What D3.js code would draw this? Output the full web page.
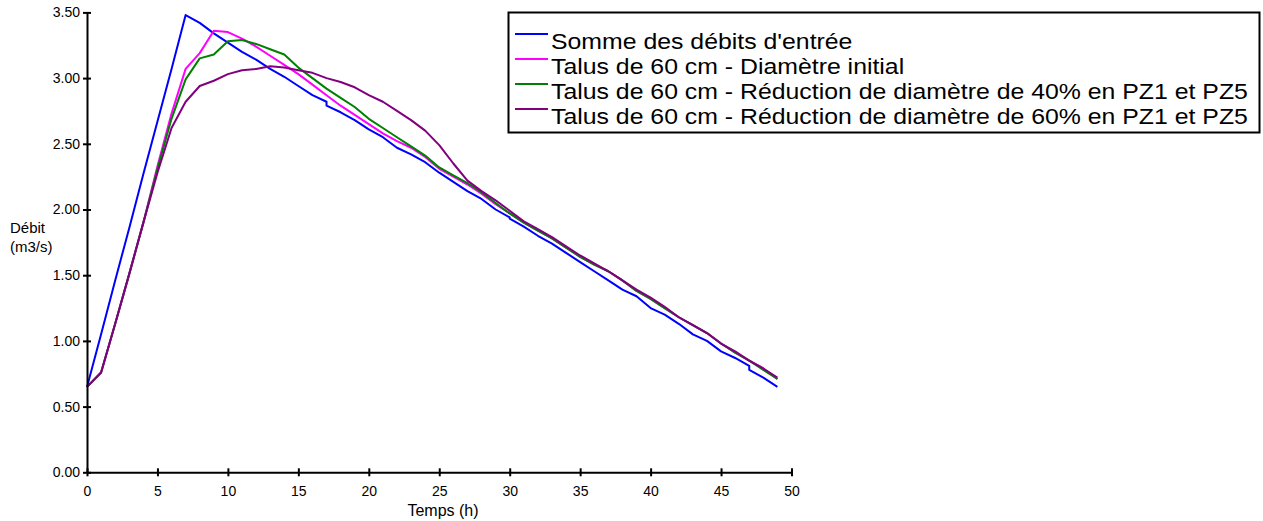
<!DOCTYPE html>
<html lang="fr">
<head>
<meta charset="utf-8">
<script src="https://cdn.jsdelivr.net/npm/d3@7"></script>
<style>
  html, body { margin: 0; padding: 0; background: #fff; }
  svg { display: block; font-family: "Liberation Sans", Arial, sans-serif; }
</style>
</head>
<body>
<svg id="chart" width="1263" height="521"></svg>
<script>
// Heures de simulation
const heures = d3.range(0, 50);
// La somme des débits comporte trois petits sauts (valeurs doublées à 17 h, 30 h et 47 h)
const heuresSomme = [0,1,2,3,4,5,6,7,8,9,10,11,12,13,14,15,16,17,17,18,19,20,21,22,23,24,25,26,27,28,29,30,30,31,32,33,34,35,36,37,38,39,40,41,42,43,44,45,46,47,47,48,49];

const sommeDebits = [0.65,1.05,1.46,1.86,2.27,2.67,3.07,3.48,3.42,3.34,3.27,3.20,3.14,3.07,3.01,2.94,2.87,2.82,2.79,2.74,2.68,2.61,2.55,2.47,2.42,2.36,2.28,2.21,2.14,2.08,2.00,1.94,1.93,1.87,1.80,1.74,1.67,1.60,1.53,1.46,1.39,1.34,1.25,1.20,1.13,1.05,1.00,0.92,0.87,0.81,0.78,0.72,0.65];

const diametreInitial = [0.65,0.76,1.13,1.51,1.90,2.33,2.73,3.07,3.19,3.36,3.35,3.30,3.24,3.17,3.10,3.03,2.95,2.87,2.79,2.72,2.65,2.58,2.52,2.47,2.40,2.31,2.25,2.19,2.12,2.04,1.97,1.90,1.84,1.78,1.71,1.64,1.58,1.53,1.46,1.38,1.32,1.25,1.18,1.12,1.06,0.98,0.91,0.85,0.79,0.71];

const reduction40 = [0.65,0.76,1.13,1.51,1.90,2.31,2.69,2.99,3.15,3.18,3.28,3.29,3.26,3.22,3.18,3.08,3.00,2.92,2.85,2.78,2.69,2.62,2.55,2.48,2.41,2.32,2.26,2.20,2.13,2.05,1.97,1.90,1.84,1.78,1.71,1.64,1.58,1.53,1.46,1.38,1.32,1.25,1.18,1.12,1.06,0.98,0.91,0.85,0.78,0.71];

const reduction60 = [0.65,0.76,1.13,1.51,1.90,2.28,2.62,2.82,2.94,2.98,3.03,3.06,3.07,3.09,3.08,3.06,3.04,3.00,2.97,2.93,2.87,2.82,2.75,2.68,2.60,2.49,2.35,2.22,2.14,2.07,1.99,1.91,1.85,1.79,1.72,1.65,1.59,1.53,1.46,1.39,1.33,1.26,1.18,1.12,1.06,0.98,0.92,0.85,0.79,0.72];

const nomsSeries = [
  "Somme des débits d'entrée",
  "Talus de 60 cm - Diamètre initial",
  "Talus de 60 cm - Réduction de diamètre de 40% en PZ1 et PZ5",
  "Talus de 60 cm - Réduction de diamètre de 60% en PZ1 et PZ5"
];
const couleurs = ["#0000ff", "#ff00ff", "#008000", "#800080"];

const xTicks = [0, 5, 10, 15, 20, 25, 30, 35, 40, 45, 50];
const yTicks = [0, 0.5, 1, 1.5, 2, 2.5, 3, 3.5];

const series = [
  { nom: nomsSeries[0], couleur: couleurs[0], t: heuresSomme, v: sommeDebits },
  { nom: nomsSeries[1], couleur: couleurs[1], t: heures, v: diametreInitial },
  { nom: nomsSeries[2], couleur: couleurs[2], t: heures, v: reduction40 },
  { nom: nomsSeries[3], couleur: couleurs[3], t: heures, v: reduction60 }
];

const svg = d3.select("#chart");
const zone = { left: 87, right: 791.5, top: 12.4, bottom: 472.3 };

const x = d3.scaleLinear().domain([0, 50]).range([zone.left, zone.right]);
const y = d3.scaleLinear().domain([0, 3.5]).range([zone.bottom, zone.top]);

// Courbes
const ligne = d3.line().x(d => x(d[0])).y(d => y(d[1]));
svg.append("g")
  .selectAll("path")
  .data(series)
  .join("path")
  .attr("fill", "none")
  .attr("stroke", d => d.couleur)
  .attr("stroke-width", 2)
  .attr("stroke-linejoin", "round")
  .attr("d", d => ligne(d.t.map((t, i) => [t, d.v[i]])));

// Axes
const axeY = svg.append("g")
  .attr("transform", `translate(${zone.left},0)`)
  .call(d3.axisLeft(y).tickValues(yTicks).tickFormat(d3.format(".2f"))
    .tickSizeInner(4).tickSizeOuter(0).tickPadding(3));
const axeX = svg.append("g")
  .attr("transform", `translate(0,${zone.bottom})`)
  .call(d3.axisBottom(x).tickValues(xTicks).tickFormat(d3.format("d"))
    .tickSizeInner(4).tickSizeOuter(0).tickPadding(10));

axeY.selectAll(".tick line").attr("x1", 4);
axeX.selectAll(".tick line").attr("y1", -4);
[axeY, axeX].forEach(a => {
  a.select(".domain").attr("stroke", "#000").attr("stroke-width", 2);
  a.selectAll(".tick line").attr("stroke", "#000").attr("stroke-width", 2);
  a.selectAll(".tick text")
    .attr("fill", "#000")
    .style("font-family", "'Liberation Sans', Arial, sans-serif")
    .style("font-size", "14px");
});

// Titres des axes
svg.append("text")
  .attr("x", 443).attr("y", 516)
  .attr("text-anchor", "middle")
  .style("font-size", "16px")
  .text("Temps (h)");
svg.append("text")
  .attr("x", 10).attr("y", 233)
  .style("font-size", "15px")
  .text("Débit");
svg.append("text")
  .attr("x", 10).attr("y", 252)
  .style("font-size", "15px")
  .text("(m3/s)");

// Légende : texte légèrement élargi horizontalement
const legende = svg.append("g");
legende.append("rect")
  .attr("x", 508.5).attr("y", 12.5)
  .attr("width", 751).attr("height", 120)
  .attr("fill", "#fff").attr("stroke", "#000").attr("stroke-width", 2);

const entrees = legende.selectAll("g.entree")
  .data(series)
  .join("g")
  .attr("class", "entree")
  .attr("transform", (d, i) => `translate(0,${34 + i * 25})`);
entrees.append("line")
  .attr("x1", 515).attr("x2", 548)
  .attr("y1", 0).attr("y2", 0)
  .attr("stroke", d => d.couleur).attr("stroke-width", 2);
entrees.append("text")
  .attr("transform", "translate(551,14.5) scale(1.155,1)")
  .style("font-size", "21.5px")
  .attr("fill", "#000")
  .text(d => d.nom);
</script>
</body>
</html>
